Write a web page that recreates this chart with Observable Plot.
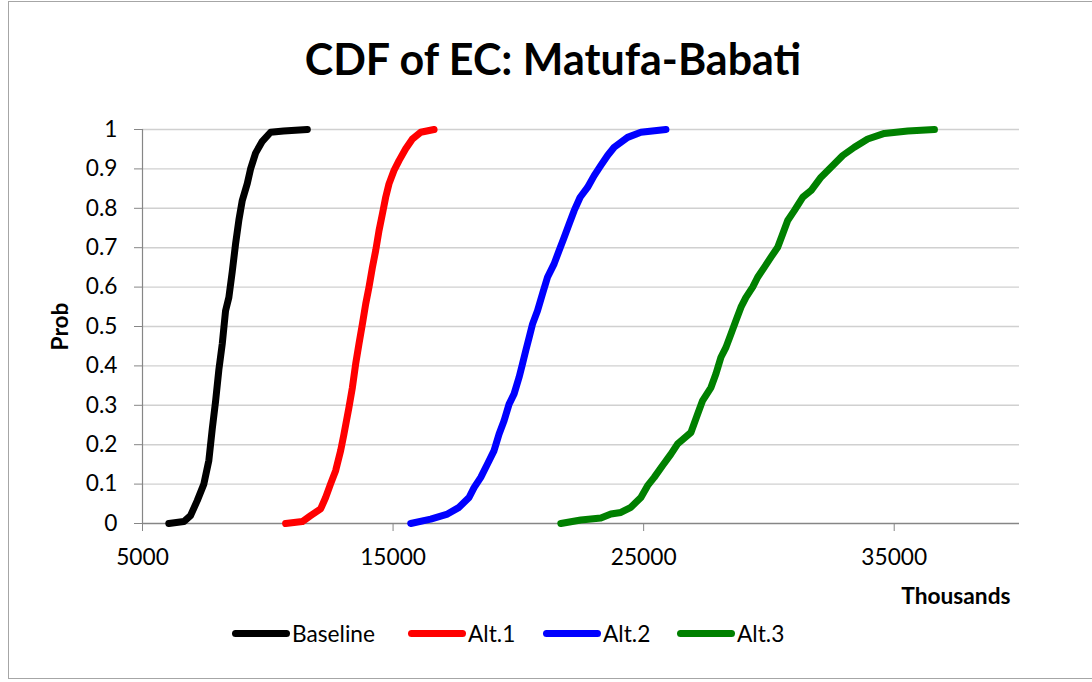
<!DOCTYPE html>
<html>
<head>
<meta charset="utf-8">
<script src="https://cdn.jsdelivr.net/npm/d3@7"></script>
<script src="https://cdn.jsdelivr.net/npm/@observablehq/plot@0.6"></script>
<style>
  html, body { margin: 0; padding: 0; background: #fff; }
  #wrap { position: relative; width: 1092px; height: 682px; overflow: hidden; font-family: Lato, "Open Sans", sans-serif; color: #000; }
  #frame { position: absolute; left: 8px; top: 1px; width: 1100px; height: 678px; border: 1px solid #a6a6a6; box-sizing: border-box; }
  #title { position: absolute; left: 0; width: 1092px; top: 37px; text-align: center; font-weight: bold; font-size: 43px; line-height: 1; padding-left: 14px; box-sizing: border-box; }
  #chart { position: absolute; left: 0; top: 100px; }
  .leg { position: absolute; top: 620px; height: 26px; display: flex; align-items: center; font-size: 22.7px; }
  .sw { width: 58px; height: 7px; border-radius: 4px; margin-right: 2px; }
</style>
</head>
<body>
<div id="wrap">
  <div id="frame"></div>
  <div id="title">CDF of EC: Matufa-Babati</div>
  <div id="chart"></div>
  <div id="legend"></div>
</div>
<script>
// Series names and colours
const seriesNames = ["Baseline", "Alt.1", "Alt.2", "Alt.3"];
const seriesColors = ["#000000", "#ff0000", "#0000ff", "#008000"];

// Tick values
const xTicks = [5000, 15000, 25000, 35000];
const yTicks = [0, 0.1, 0.2, 0.3, 0.4, 0.5, 0.6, 0.7, 0.8, 0.9, 1];

// Baseline (thousands, cumulative probability)
const baselineX = [6050, 6650, 6917, 7185, 7448, 7648, 7784, 7916, 8047, 8183, 8315, 8447, 8583, 8715, 8846, 8982, 9182, 9313, 9513, 9781, 10112, 10632, 11578];
const baselineP = [0, 0.005, 0.02, 0.058, 0.10, 0.16, 0.24, 0.31, 0.39, 0.456, 0.54, 0.574, 0.64, 0.71, 0.77, 0.82, 0.863, 0.90, 0.94, 0.97, 0.993, 0.996, 1.0];

// Alt.1
const alt1X = [10711, 11378, 11710, 12109, 12309, 12503, 12708, 12908, 13040, 13240, 13376, 13507, 13639, 13775, 13907, 14039, 14175, 14307, 14438, 14574, 14705, 14837, 15037, 15237, 15504, 15772, 16103, 16635];
const alt1P = [0, 0.005, 0.02, 0.037, 0.066, 0.10, 0.134, 0.185, 0.227, 0.295, 0.345, 0.405, 0.456, 0.506, 0.557, 0.6, 0.65, 0.693, 0.743, 0.786, 0.828, 0.862, 0.896, 0.921, 0.951, 0.976, 0.993, 1.0];

// Alt.2
const alt2X = [15704, 16503, 17170, 17633, 18032, 18232, 18500, 18767, 19031, 19231, 19430, 19630, 19830, 20029, 20165, 20297, 20429, 20565, 20764, 20964, 21163, 21427, 21627, 21826, 22026, 22226, 22466, 22761, 23025, 23293, 23560, 23824, 24359, 24890, 25889];
const alt2P = [0, 0.011, 0.024, 0.041, 0.066, 0.091, 0.117, 0.151, 0.185, 0.227, 0.261, 0.303, 0.329, 0.371, 0.405, 0.439, 0.472, 0.506, 0.54, 0.583, 0.625, 0.659, 0.693, 0.726, 0.76, 0.794, 0.828, 0.853, 0.883, 0.909, 0.934, 0.955, 0.98, 0.993, 1.0];

// Alt.3
const alt3X = [21695, 22494, 23293, 23692, 24091, 24491, 24890, 25158, 25421, 25757, 26088, 26356, 26887, 27155, 27354, 27686, 27886, 28085, 28285, 28485, 28684, 28884, 29083, 29351, 29550, 29814, 30082, 30350, 30549, 30749, 31013, 31348, 31680, 32079, 32479, 32946, 33409, 33944, 34607, 35542, 36605];
const alt3P = [0, 0.009, 0.014, 0.024, 0.028, 0.041, 0.066, 0.096, 0.117, 0.147, 0.176, 0.202, 0.231, 0.278, 0.312, 0.345, 0.38, 0.422, 0.447, 0.481, 0.515, 0.549, 0.574, 0.6, 0.625, 0.65, 0.676, 0.701, 0.735, 0.769, 0.794, 0.828, 0.845, 0.879, 0.904, 0.934, 0.955, 0.976, 0.99, 0.996, 1.0];

const seriesData = [[baselineX, baselineP], [alt1X, alt1P], [alt2X, alt2P], [alt3X, alt3P]];
const rows = [];
seriesData.forEach(([xs, ps], i) => {
  const n = Math.min(xs.length, ps.length);
  for (let k = 0; k < n; k++) rows.push({series: seriesNames[i], x: xs[k], p: ps[k]});
});

const gray = "#868686";
const chart = Plot.plot({
  width: 1092,
  height: 510,
  marginLeft: 142,
  marginRight: 73,
  marginTop: 29,
  marginBottom: 87,
  x: {domain: [5000, 40000]},
  y: {domain: [0, 1]},
  color: {domain: seriesNames, range: seriesColors},
  style: {fontFamily: "Lato, 'Open Sans', sans-serif", fontSize: "22.7px", color: "#000", background: "transparent", overflow: "visible"},
  marks: [
    Plot.gridY(yTicks.slice(1), {stroke: "#d0d0d0", strokeOpacity: 1, strokeWidth: 1.4}),
    Plot.axisY(yTicks, {tickSize: 8, tickPadding: 17, stroke: gray, strokeOpacity: 1, label: null, tickFormat: d => String(d)}),
    Plot.axisX(xTicks, {tickSize: 8, tickPadding: 17, stroke: gray, strokeOpacity: 1, label: null, tickFormat: d => String(d)}),
    Plot.ruleX([5000], {stroke: gray, strokeWidth: 1.2}),
    Plot.ruleY([0], {stroke: gray, strokeWidth: 1.4}),
    Plot.line(rows, {x: "x", y: "p", z: "series", stroke: "series", strokeWidth: 7, strokeLinecap: "round", strokeLinejoin: "round"}),
    Plot.text(["Prob"], {frameAnchor: "left", dx: -82, rotate: -90, textAnchor: "middle", fontWeight: "bold", fontSize: 22.7}),
    Plot.text(["Thousands"], {frameAnchor: "bottom-right", dx: -9, dy: 73, textAnchor: "end", lineAnchor: "middle", fontWeight: "bold", fontSize: 22.7})
  ]
});
document.getElementById("chart").appendChild(chart);

// Legend
const legendLeft = [232, 408, 543, 677];
const legend = document.getElementById("legend");
seriesNames.forEach((name, i) => {
  const item = document.createElement("div");
  item.className = "leg";
  item.style.left = legendLeft[i] + "px";
  const sw = document.createElement("div");
  sw.className = "sw";
  sw.style.background = seriesColors[i];
  const tx = document.createElement("span");
  tx.textContent = name;
  item.appendChild(sw);
  item.appendChild(tx);
  legend.appendChild(item);
});
</script>
</body>
</html>
